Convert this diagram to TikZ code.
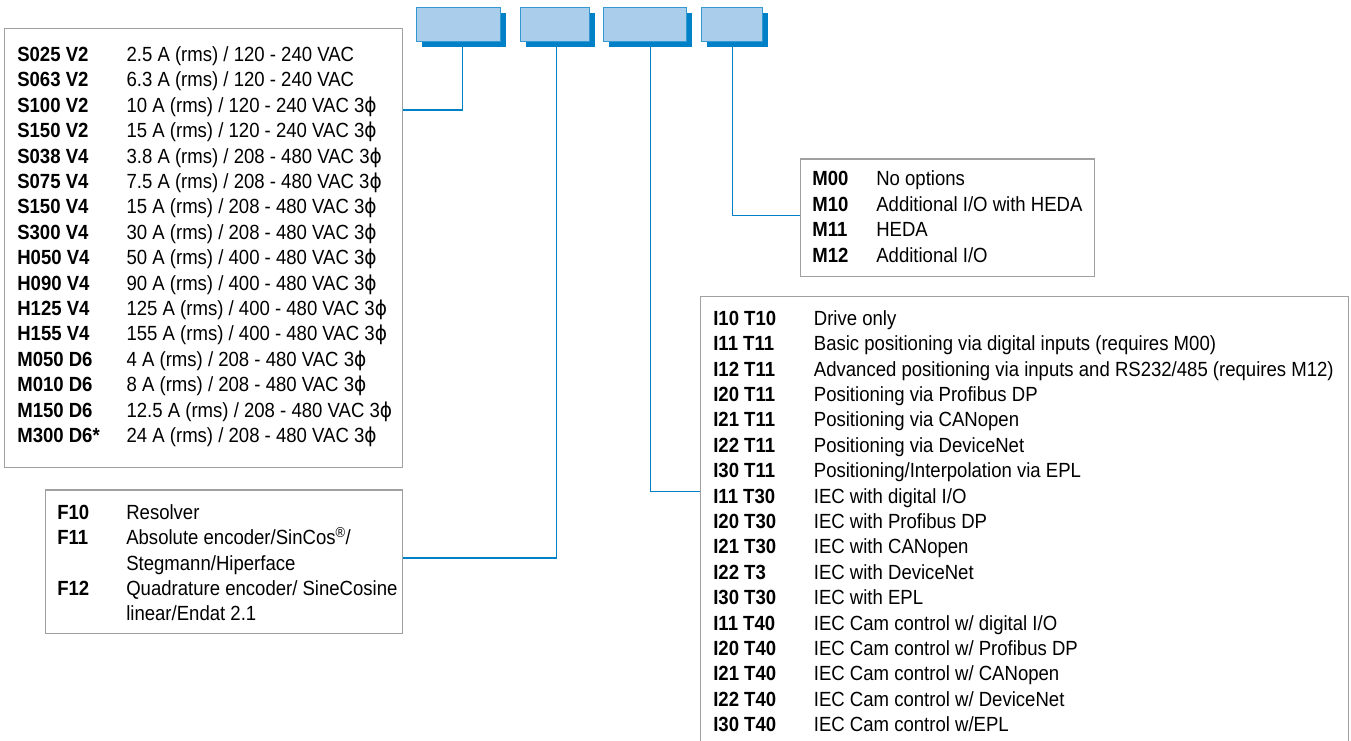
\documentclass[tikz,border=0pt]{standalone}
\usepackage{fontspec}
\setmainfont[FakeStretch=0.905]{Liberation Sans}
\newfontfamily\phifont[FakeStretch=0.905]{DejaVu Sans}
\usepackage{array}
\usetikzlibrary{positioning,shadows}
\definecolor{codeblue}{RGB}{171,205,236}
\definecolor{darkblue}{RGB}{0,128,198}
\definecolor{boxgray}{RGB}{160,160,160}
\newcommand{\entry}[2]{\textbf{#1} & #2\\}
\newcommand{\three}{3{\phifont ϕ}}
\tikzset{
every picture/.style={
line width=1.2pt
}}

\begin{document}
\begin{tikzpicture}[x=1pt, y=-1pt,
code/.style = {rectangle, fill=codeblue, draw=darkblue!80!white, line width=0.8pt,
  minimum height=34pt, inner sep=0pt, anchor=north west,
  drop shadow={shadow xshift=5.5pt, shadow yshift=-5.4pt, fill=darkblue, opacity=1}},
frame/.style = {rectangle, draw=boxgray, line width=1.2pt, inner sep=0pt, anchor=north west},
list/.style = {inner sep=0pt, anchor=north west, font=\fontsize{20.5}{25.4}\selectfont},
link/.style = {draw=darkblue, line width=1.2pt}]
\useasboundingbox (0,0) rectangle (1351,741);
% code fields at the top
\node[code, minimum width=84.6pt] at (415.7,7.3) (b1) {};
\node[code, minimum width=69pt] at (520,7.3) (b2) {};
\node[code, minimum width=83pt] at (603.3,7.3) (b3) {};
\node[code, minimum width=60.7pt] at (701,7.3) (b4) {};
% boxes
\node[frame, minimum width=397.5pt, minimum height=438.7pt] at (4,28.3) (drv) {};
\node[frame, minimum width=356.5pt, minimum height=143.4pt] at (45,489.3) (fb) {};
\node[frame, minimum width=294pt, minimum height=117.7pt] at (800,158.3) (mb) {};
\node[frame, minimum width=647.7pt, minimum height=470pt] at (700,295.5) (ib) {};
% lists
\node[list] at (16.7,43.2) (drvtxt) {\begin{tabular}{@{}p{109.3pt}@{}l@{}}
\entry{S025 V2}{2.5 A (rms) / 120 - 240 VAC}
\entry{S063 V2}{6.3 A (rms) / 120 - 240 VAC}
\entry{S100 V2}{10 A (rms) / 120 - 240 VAC \three}
\entry{S150 V2}{15 A (rms) / 120 - 240 VAC \three}
\entry{S038 V4}{3.8 A (rms) / 208 - 480 VAC \three}
\entry{S075 V4}{7.5 A (rms) / 208 - 480 VAC \three}
\entry{S150 V4}{15 A (rms) / 208 - 480 VAC \three}
\entry{S300 V4}{30 A (rms) / 208 - 480 VAC \three}
\entry{H050 V4}{50 A (rms) / 400 - 480 VAC \three}
\entry{H090 V4}{90 A (rms) / 400 - 480 VAC \three}
\entry{H125 V4}{125 A (rms) / 400 - 480 VAC \three}
\entry{H155 V4}{155 A (rms) / 400 - 480 VAC \three}
\entry{M050 D6}{4 A (rms) / 208 - 480 VAC \three}
\entry{M010 D6}{8 A (rms) / 208 - 480 VAC \three}
\entry{M150 D6}{12.5 A (rms) / 208 - 480 VAC \three}
\entry{M300 D6*}{24 A (rms) / 208 - 480 VAC \three}
\end{tabular}};
\node[list] at (56.7,500.9) (fbtxt) {\begin{tabular}{@{}p{69pt}@{}l@{}}
\entry{F10}{Resolver}
\entry{F11}{Absolute encoder/SinCos\textsuperscript{\textregistered}/}
 & Stegmann/Hiperface\\
\entry{F12}{Quadrature encoder/ SineCosine}
 & linear/Endat 2.1\\
\end{tabular}};
\node[list] at (811.7,167.5) (mbtxt) {\begin{tabular}{@{}p{64pt}@{}l@{}}
\entry{M00}{No options}
\entry{M10}{Additional I/O with HEDA}
\entry{M11}{HEDA}
\entry{M12}{Additional I/O}
\end{tabular}};
\node[list] at (712.7,306.9) (ibtxt) {\begin{tabular}{@{}p{100.6pt}@{}l@{}}
\entry{I10 T10}{Drive only}
\entry{I11 T11}{Basic positioning via digital inputs (requires M00)}
\entry{I12 T11}{Advanced positioning via inputs and RS232/485 (requires M12)}
\entry{I20 T11}{Positioning via Profibus DP}
\entry{I21 T11}{Positioning via CANopen}
\entry{I22 T11}{Positioning via DeviceNet}
\entry{I30 T11}{Positioning/Interpolation via EPL}
\entry{I11 T30}{IEC with digital I/O}
\entry{I20 T30}{IEC with Profibus DP}
\entry{I21 T30}{IEC with CANopen}
\entry{I22 T3}{IEC with DeviceNet}
\entry{I30 T30}{IEC with EPL}
\entry{I11 T40}{IEC Cam control w/ digital I/O}
\entry{I20 T40}{IEC Cam control w/ Profibus DP}
\entry{I21 T40}{IEC Cam control w/ CANopen}
\entry{I22 T40}{IEC Cam control w/ DeviceNet}
\entry{I30 T40}{IEC Cam control w/EPL}
\end{tabular}};
% connectors
\draw[link] ([xshift=3.7pt]b1.south) |- ([yshift=-81.7pt]drv.north east);
\draw[link] ([xshift=1.5pt]b2.south) |- ([yshift=-68.7pt]fb.north east);
\draw[link] ([xshift=5.2pt]b3.south) |- ([yshift=-196.2pt]ib.north west);
\draw[link] ([xshift=1pt]b4.south) |- ([yshift=-57.4pt]mb.north west);
\end{tikzpicture}
\end{document}
